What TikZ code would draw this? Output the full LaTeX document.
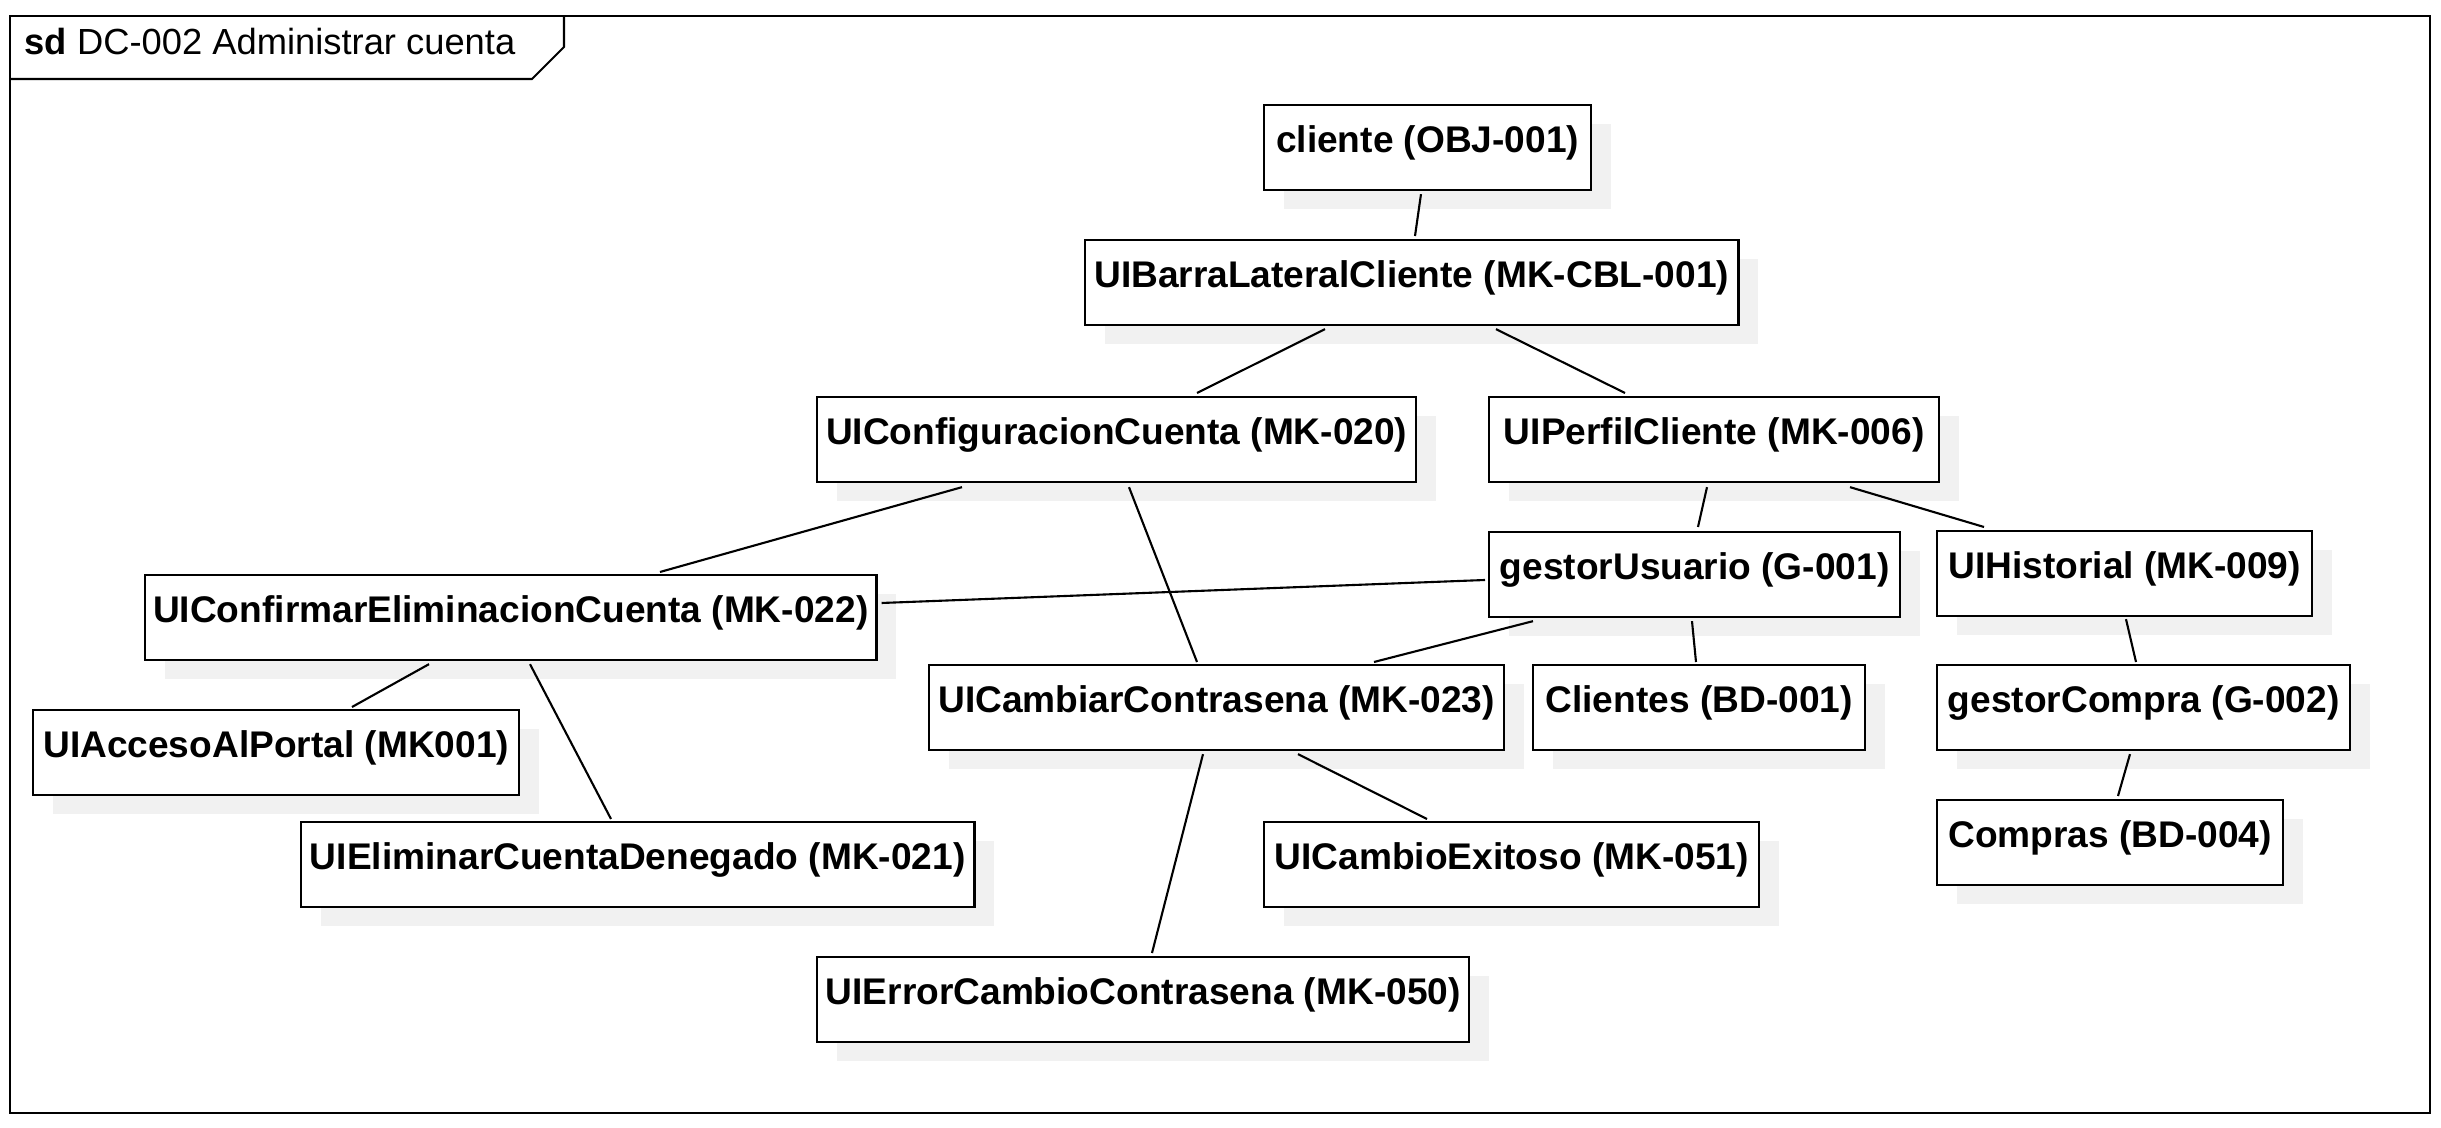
\documentclass[tikz,border=0pt]{standalone}
\usepackage{fontspec}
\setmainfont{Liberation Sans}
\usepackage{xcolor}
\definecolor{umlLine}{HTML}{000000}
\definecolor{umlShadow}{HTML}{F1F1F1}
\usetikzlibrary{calc,shadows}
\tikzset{
  objbox/.style={draw=umlLine, fill=white, line width=0.6pt, anchor=north west,
    inner sep=0pt, text height=0.47cm, text depth=0.38cm,
    font=\fontsize{10.55pt}{12pt}\selectfont\bfseries,
    drop shadow={shadow xshift=0.2cm, shadow yshift=-0.19cm, fill=umlShadow, opacity=1}},
  link/.style={draw=umlLine, line width=0.6pt}
}

\begin{document}
\begin{tikzpicture}[x=0.01cm, y=-0.01cm, font=\fontsize{10.33pt}{12pt}\selectfont]
  \useasboundingbox (0,0) rectangle (2441,1128);
  % marco sd
  \draw[link] (9.6,16) rectangle (2430,1113);
  \draw[link] (9.6,79) -- (532,79) -- (564,47) -- (564,16);
  \node[anchor=base west, inner sep=0pt] (titulo) at (24,55) {\textbf{sd} DC-002 Administrar cuenta};
  % objetos
  \node[objbox, minimum width=3.27cm] (cliente) at (1263,104) {cliente (OBJ-001)};
  \node[objbox, minimum width=6.53cm] (barra) at (1084,239) {UIBarraLateralCliente (MK-CBL-001)};
  \node[objbox, minimum width=5.99cm] (config) at (816,396) {UIConfiguracionCuenta (MK-020)};
  \node[objbox, minimum width=4.50cm] (perfil) at (1488,396) {UIPerfilCliente (MK-006)};
  \node[objbox, minimum width=4.11cm] (gestorU) at (1488,531) {gestorUsuario (G-001)};
  \node[objbox, minimum width=3.75cm] (historial) at (1936,530) {UIHistorial (MK-009)};
  \node[objbox, minimum width=7.31cm] (confirmar) at (144,574) {UIConfirmarEliminacionCuenta (MK-022)};
  \node[objbox, minimum width=5.75cm] (cambiar) at (928,664) {UICambiarContrasena (MK-023)};
  \node[objbox, minimum width=3.32cm] (clientes) at (1532,664) {Clientes (BD-001)};
  \node[objbox, minimum width=4.13cm] (gestorC) at (1936,664) {gestorCompra (G-002)};
  \node[objbox, minimum width=4.86cm] (acceso) at (32,709) {UIAccesoAlPortal (MK001)};
  \node[objbox, minimum width=6.73cm] (denegado) at (300,821) {UIEliminarCuentaDenegado (MK-021)};
  \node[objbox, minimum width=4.95cm] (exitoso) at (1263,821) {UICambioExitoso (MK-051)};
  \node[objbox, minimum width=3.46cm] (compras) at (1936,799) {Compras (BD-004)};
  \node[objbox, minimum width=6.52cm] (errorC) at (816,956) {UIErrorCambioContrasena (MK-050)};
  % enlaces
  \draw[link] ($(cliente.south west)+(158,3)$) -- ($(barra.north west)+(331,-3)$);
  \draw[link] ($(barra.south west)+(241,3)$) -- ($(config.north west)+(381,-3)$);
  \draw[link] ($(barra.south west)+(412,3)$) -- ($(perfil.north west)+(137,-3)$);
  \draw[link] ($(config.south west)+(146,4)$) -- ($(confirmar.north west)+(516,-2)$);
  \draw[link] ($(config.south west)+(313,4)$) -- ($(cambiar.north west)+(269,-2)$);
  \draw[link] ($(perfil.south west)+(219,4)$) -- ($(gestorU.north west)+(210,-4)$);
  \draw[link] ($(perfil.south west)+(362,4)$) -- ($(historial.north west)+(48,-3)$);
  \draw[link] ($(gestorU.north west)+(-3,49)$) -- ($(confirmar.north east)+(4,29)$);
  \draw[link] ($(gestorU.south west)+(45,3)$) -- ($(cambiar.north west)+(446,-2)$);
  \draw[link] ($(gestorU.south west)+(204,3)$) -- ($(clientes.north west)+(164,-2)$);
  \draw[link] ($(historial.south west)+(190,2)$) -- ($(gestorC.north west)+(200,-2)$);
  \draw[link] ($(gestorC.south west)+(194,3)$) -- ($(compras.north west)+(182,-3)$);
  \draw[link] ($(confirmar.south west)+(285,3)$) -- ($(acceso.north west)+(320,-2)$);
  \draw[link] ($(confirmar.south west)+(386,3)$) -- ($(denegado.north west)+(311,-2)$);
  \draw[link] ($(cambiar.south west)+(370,3)$) -- ($(exitoso.north west)+(164,-2)$);
  \draw[link] ($(cambiar.south west)+(275,3)$) -- ($(errorC.north west)+(336,-3)$);
\end{tikzpicture}
\end{document}
